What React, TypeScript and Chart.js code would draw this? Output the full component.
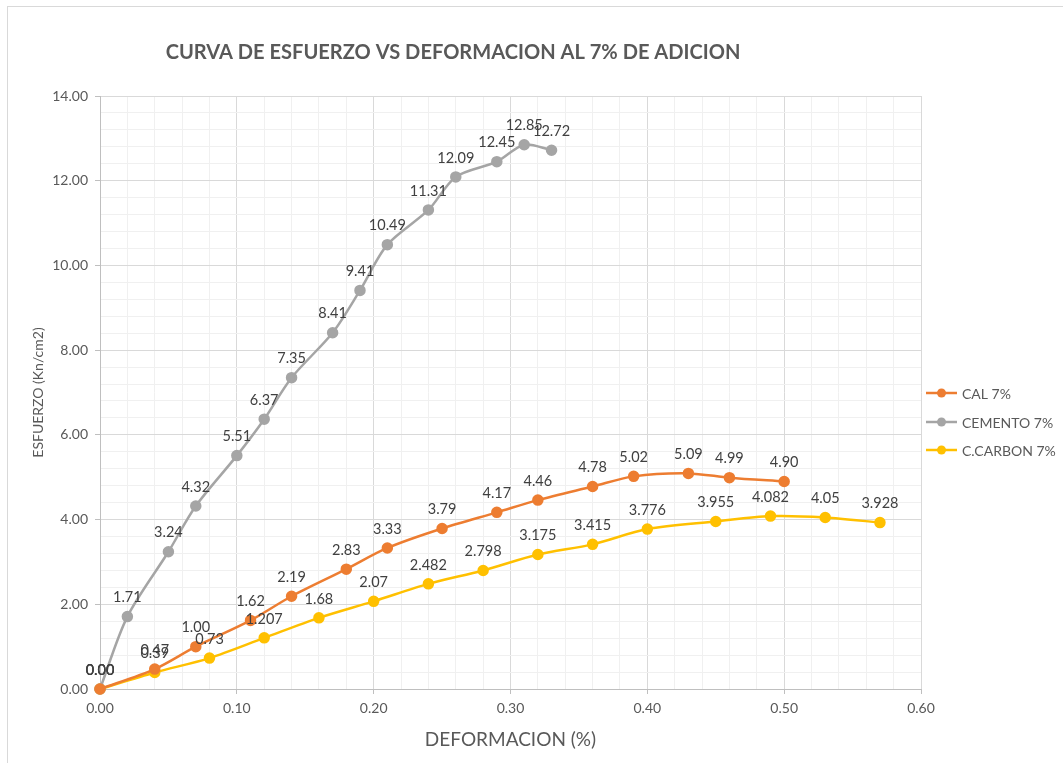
import React, { useEffect, useRef } from "react";
import { Chart, registerables } from "chart.js";

Chart.register(...registerables);

const TITLE = "CURVA DE ESFUERZO VS DEFORMACION AL 7% DE ADICION";
const X_TITLE = "DEFORMACION (%)";
const Y_TITLE = "ESFUERZO (Kn/cm2)";

const calX = [0, 0.04, 0.07, 0.11, 0.14, 0.18, 0.21, 0.25, 0.29, 0.32, 0.36, 0.39, 0.43, 0.46, 0.5];
const calY = [0, 0.47, 1.0, 1.62, 2.19, 2.83, 3.33, 3.79, 4.17, 4.46, 4.78, 5.02, 5.09, 4.99, 4.9];

const cementoX = [0, 0.02, 0.05, 0.07, 0.1, 0.12, 0.14, 0.17, 0.19, 0.21, 0.24, 0.26, 0.29, 0.31, 0.33];
const cementoY = [0, 1.71, 3.24, 4.32, 5.51, 6.37, 7.35, 8.41, 9.41, 10.49, 11.31, 12.09, 12.45, 12.85, 12.72];

const carbonX = [0, 0.04, 0.08, 0.12, 0.16, 0.2, 0.24, 0.28, 0.32, 0.36, 0.4, 0.45, 0.49, 0.53, 0.57];
const carbonY = [0, 0.39, 0.73, 1.207, 1.68, 2.07, 2.482, 2.798, 3.175, 3.415, 3.776, 3.955, 4.082, 4.05, 3.928];

const seriesNames = ["CAL 7%", "CEMENTO 7%", "C.CARBON 7%"];
const seriesColors = ["#ED7D31", "#A5A5A5", "#FFC000"];

const FONT = "Lato, 'Open Sans', sans-serif";

const fmt2 = (v: number) => v.toFixed(2);
const fmtRaw = (v: number) => (v === 0 ? "0.00" : String(v));

function isMultiple(v: number, step: number) {
  const r = v / step;
  return Math.abs(r - Math.round(r)) < 1e-6;
}

const decorPlugin = {
  id: "decor",
  beforeDraw(chart: any) {
    const ctx = chart.ctx;
    ctx.save();
    ctx.fillStyle = "#ffffff";
    ctx.fillRect(0, 0, chart.width, chart.height);
    ctx.strokeStyle = "#d9d9d9";
    ctx.lineWidth = 1;
    ctx.strokeRect(7.5, 6.5, 1200, 900);
    ctx.restore();
  },
  afterDatasetsDraw(chart: any) {
    const ctx = chart.ctx;
    ctx.save();
    ctx.font = `14.5px ${FONT}`;
    ctx.fillStyle = "#404040";
    ctx.textAlign = "center";
    ctx.textBaseline = "middle";
    chart.data.datasets.forEach((ds: any, i: number) => {
      const meta = chart.getDatasetMeta(i);
      meta.data.forEach((pt: any, j: number) => {
        const v = ds.data[j].y;
        ctx.fillText(ds.fmt(v), pt.x, pt.y - 19);
      });
    });
    ctx.restore();
  },
  afterDraw(chart: any) {
    const ctx = chart.ctx;
    ctx.save();
    // title
    ctx.fillStyle = "#595959";
    ctx.textAlign = "center";
    ctx.textBaseline = "middle";
    let size = 20;
    ctx.font = `bold ${size}px ${FONT}`;
    const w = ctx.measureText(TITLE).width;
    size = size * 575 / w;
    ctx.font = `bold ${size}px ${FONT}`;
    ctx.fillText(TITLE, 453, 53);
    // legend
    const rows = [393, 422, 450];
    ctx.textAlign = "left";
    ctx.font = `14px ${FONT}`;
    chart.data.datasets.forEach((ds: any, i: number) => {
      const y = rows[i];
      ctx.strokeStyle = ds.borderColor;
      ctx.lineWidth = 2.5;
      ctx.beginPath();
      ctx.moveTo(926, y);
      ctx.lineTo(957, y);
      ctx.stroke();
      ctx.fillStyle = ds.borderColor;
      ctx.beginPath();
      ctx.arc(941.5, y, 4.5, 0, Math.PI * 2);
      ctx.fill();
      ctx.fillStyle = "#595959";
      ctx.fillText(ds.label, 962, y + 1);
    });
    ctx.restore();
  },
};

function makeDataset(i: number, xs: number[], ys: number[], fmt: (v: number) => string) {
  return {
    label: seriesNames[i],
    data: xs.map((x, k) => ({ x, y: ys[k] })),
    borderColor: seriesColors[i],
    backgroundColor: seriesColors[i],
    pointBackgroundColor: seriesColors[i],
    pointBorderColor: seriesColors[i],
    pointRadius: 4.5,
    borderWidth: 2.5,
    tension: 0.3,
    clip: false,
    fmt,
  };
}

export default function App() {
  const ref = useRef<HTMLCanvasElement>(null);
  useEffect(() => {
    if (!ref.current) return;
    const chart = new Chart(ref.current, {
      type: "line",
      data: {
        datasets: [
          makeDataset(0, calX, calY, fmt2),
          makeDataset(1, cementoX, cementoY, fmt2),
          makeDataset(2, carbonX, carbonY, fmtRaw),
        ] as any,
      },
      options: {
        responsive: false,
        animation: false,
        devicePixelRatio: 1,
        layout: { padding: { left: 0, top: 96, right: 142, bottom: 0 } },
        plugins: { legend: { display: false }, tooltip: { enabled: false }, title: { display: false } },
        scales: {
          x: {
            type: "linear",
            min: 0,
            max: 0.6,
            afterFit: (s: any) => { s.height = 74; },
            ticks: {
              stepSize: 0.02,
              autoSkip: false,
              maxRotation: 0,
              padding: 6,
              color: "#595959",
              font: { family: FONT, size: 14 },
              callback: (v: any) => (isMultiple(Number(v), 0.1) ? Number(v).toFixed(2) : ""),
            },
            grid: {
              color: (c: any) => (isMultiple(c.tick.value, 0.1) ? "#d9d9d9" : "#f0f0f0"),
              tickColor: (c: any) => (isMultiple(c.tick.value, 0.1) ? "#bfbfbf" : "rgba(0,0,0,0)"),
              tickLength: 5,
            },
            border: { color: "#bfbfbf" },
            title: {
              display: true,
              text: X_TITLE,
              color: "#595959",
              font: { family: FONT, size: 19 },
              padding: { top: 0, bottom: 12 },
            },
          },
          y: {
            type: "linear",
            min: 0,
            max: 14,
            afterFit: (s: any) => { s.width = 100; },
            ticks: {
              stepSize: 0.4,
              autoSkip: false,
              padding: 7,
              color: "#595959",
              font: { family: FONT, size: 14 },
              callback: (v: any) => (isMultiple(Number(v), 2) ? Number(v).toFixed(2) : ""),
            },
            grid: {
              color: (c: any) => (isMultiple(c.tick.value, 2) ? "#d9d9d9" : "#f0f0f0"),
              tickColor: (c: any) => (isMultiple(c.tick.value, 2) ? "#bfbfbf" : "rgba(0,0,0,0)"),
              tickLength: 5,
            },
            border: { color: "#bfbfbf" },
            title: {
              display: true,
              text: Y_TITLE,
              color: "#595959",
              font: { family: FONT, size: 14 },
              padding: { top: 30, bottom: 0 },
            },
          },
        },
      },
      plugins: [decorPlugin],
    });
    return () => chart.destroy();
  }, []);
  return (
    <div style={{ position: "absolute", left: 0, top: 0, width: 1063, height: 763 }}>
      <canvas ref={ref} width={1063} height={763} style={{ display: "block" }} />
    </div>
  );
}
